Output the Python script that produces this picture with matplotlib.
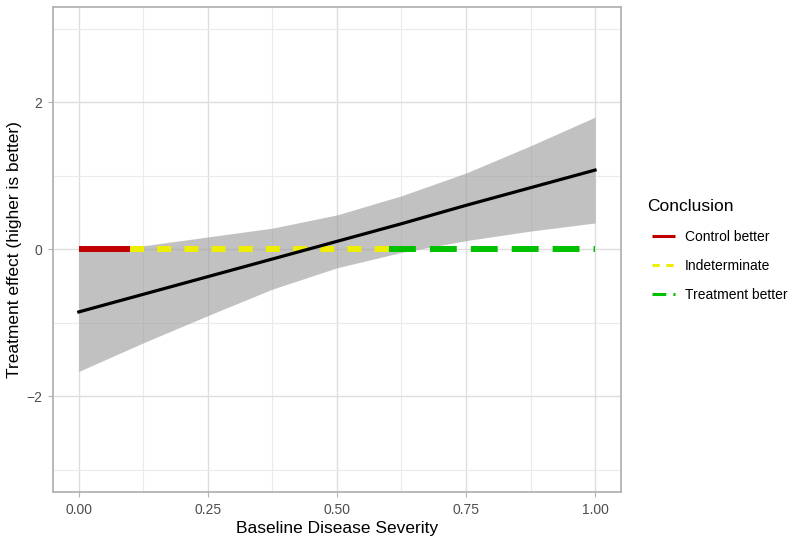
import numpy as np
import matplotlib
matplotlib.use("Agg")
import matplotlib.pyplot as plt
from matplotlib.lines import Line2D

plt.rcParams['font.family'] = ['Liberation Sans', 'DejaVu Sans']

# values
severity = [0.0, 0.125, 0.25, 0.375, 0.5, 0.625, 0.75, 0.875, 1.0]
effect = [-0.85, -0.61, -0.37, -0.13, 0.11, 0.35, 0.60, 0.84, 1.08]
ci_low = [-1.66, -1.27, -0.90, -0.54, -0.25, -0.04, 0.12, 0.25, 0.36]
ci_high = [0.0, 0.05, 0.17, 0.29, 0.47, 0.73, 1.04, 1.41, 1.80]

conclusions = ['Control better', 'Indeterminate', 'Treatment better']
seg_start = [0.0, 0.10, 0.60]
seg_end = [0.10, 0.60, 1.0]
seg_colors = ['#C00000', '#EEEE00', '#00C000']
seg_styles = ['-', (0, (2.35, 2.2)), (0, (4.5, 2.35))]

fig = plt.figure(figsize=(7.92, 5.36), dpi=100)
ax = fig.add_axes([0.0669, 0.0821, 0.717, 0.905])

ax.fill_between(severity, ci_low, ci_high, color='#999999', alpha=0.6,
                linewidth=0, zorder=2)

for s0, s1, c, ls in zip(seg_start, seg_end, seg_colors, seg_styles):
    ax.plot([s0, s1], [0, 0], color=c, lw=4.3, linestyle=ls,
            solid_capstyle='butt', dash_capstyle='butt', zorder=3)

ax.plot(severity, effect, color='black', lw=2.3, zorder=4)

ax.set_xlim(-0.05, 1.05)
ax.set_ylim(-3.3, 3.3)
ax.set_xticks([0, 0.25, 0.5, 0.75, 1.0])
ax.set_xticklabels(['0.00', '0.25', '0.50', '0.75', '1.00'])
ax.set_yticks([-2, 0, 2])
ax.set_yticklabels(['\u22122', '0', '2'])
ax.set_xticks([0.125, 0.375, 0.625, 0.875], minor=True)
ax.set_yticks([-3, -1, 1, 3], minor=True)

ax.grid(which='major', color='#DEDEDE', lw=1.0, zorder=0)
ax.grid(which='minor', color='#EBEBEB', lw=0.8, zorder=0)
ax.set_axisbelow(True)
for sp in ax.spines.values():
    sp.set_color('#B3B3B3')
    sp.set_linewidth(1.3)
ax.tick_params(which='major', colors='#B3B3B3', length=3.5, width=0.8,
               labelcolor='#4D4D4D', labelsize=10, pad=4.5)
ax.tick_params(which='minor', length=0)

ax.set_xlabel('Baseline Disease Severity', fontsize=12.5, labelpad=3)
ax.set_ylabel('Treatment effect (higher is better)', fontsize=12.5, labelpad=3)

# legend: title as separate text so the keys sit slightly right of it
handles = [Line2D([0], [0], color=c, lw=2.2, linestyle=ls,
                  solid_capstyle='butt', dash_capstyle='butt')
           for c, ls in zip(seg_colors, seg_styles)]
fig.legend(handles, conclusions, loc='center left',
           bbox_to_anchor=(0.808, 0.504), frameon=False, fontsize=10,
           handlelength=1.65, handletextpad=0.68, labelspacing=1.1)
fig.text(0.817, 0.615, 'Conclusion', fontsize=12.5, va='center', ha='left')

fig.savefig('out.png', dpi=100)
